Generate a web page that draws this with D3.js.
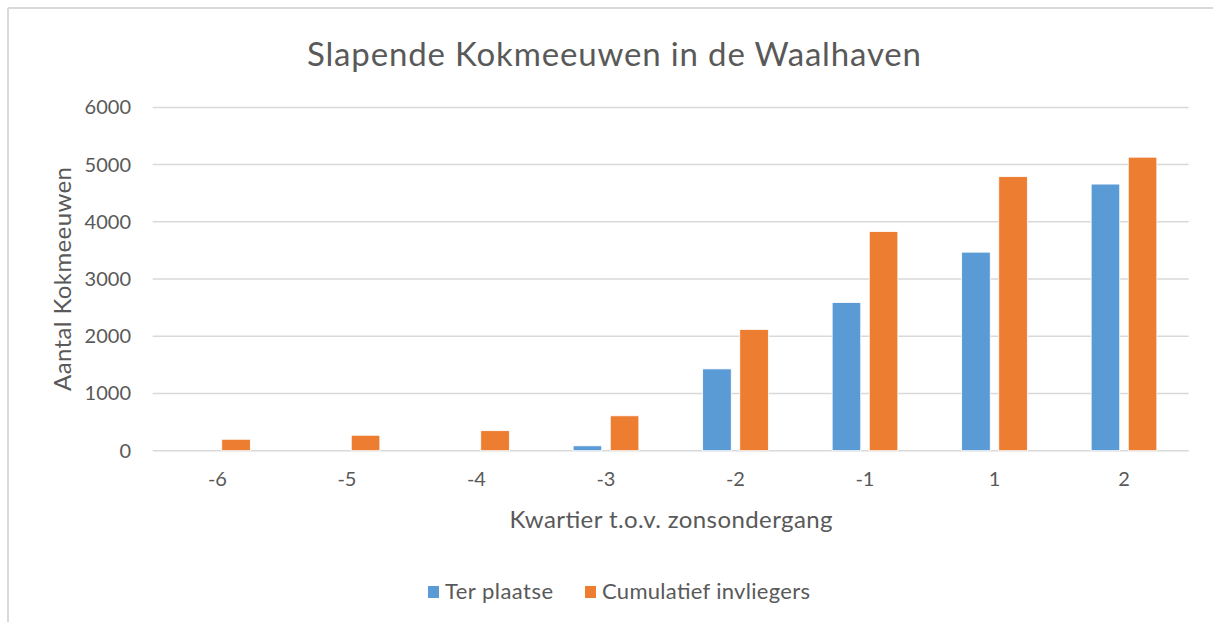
<!DOCTYPE html>
<html>
<head>
<meta charset="utf-8">
<script src="https://cdn.jsdelivr.net/npm/d3@7"></script>
<style>
  html, body { margin: 0; padding: 0; background: #fff; }
  svg { display: block; font-family: Lato, "Open Sans", "Liberation Sans", sans-serif; }
</style>
</head>
<body>
<svg id="chart" width="1213" height="622"></svg>
<script>
const categories = ["-6", "-5", "-4", "-3", "-2", "-1", "1", "2"];
const terPlaatse = [0, 0, 0, 85, 1430, 2590, 3470, 4660];
const cumulatiefInvliegers = [200, 270, 350, 610, 2120, 3830, 4790, 5130];
const yTicks = [0, 1000, 2000, 3000, 4000, 5000, 6000];
const seriesNames = ["Ter plaatse", "Cumulatief invliegers"];
const seriesColors = ["#5b9bd5", "#ed7d31"];
const title = "Slapende Kokmeeuwen in de Waalhaven";
const xTitle = "Kwartier t.o.v. zonsondergang";
const yTitle = "Aantal Kokmeeuwen";

const svg = d3.select("#chart");
const textColor = "#595959";
const gridColor = "#d9d9d9";

// chart frame (top and left border visible)
svg.append("line").attr("x1", 8).attr("x2", 1213).attr("y1", 8).attr("y2", 8)
  .attr("stroke", gridColor).attr("stroke-width", 2);
svg.append("line").attr("x1", 8).attr("x2", 8).attr("y1", 8).attr("y2", 622)
  .attr("stroke", gridColor).attr("stroke-width", 2);

const plotLeft = 152.7, plotRight = 1188.7, plotTop = 107.4, plotBottom = 450.7;

const x = d3.scaleBand().domain(categories).range([plotLeft, plotRight]).padding(0);
const y = d3.scaleLinear().domain([0, 6000]).range([plotBottom, plotTop]);

// gridlines
svg.append("g").selectAll("line").data(yTicks).join("line")
  .attr("x1", plotLeft).attr("x2", plotRight)
  .attr("y1", d => y(d)).attr("y2", d => y(d))
  .attr("stroke", gridColor).attr("stroke-width", 1.5);

// y axis labels
const yAxis = d3.axisLeft(y).tickValues(yTicks).tickSize(0).tickPadding(0).tickFormat(d3.format("d"));
const yg = svg.append("g").attr("transform", `translate(${131},0)`).call(yAxis);
yg.select(".domain").remove();
yg.selectAll("text").attr("fill", textColor).attr("font-size", 20).attr("font-family", "Lato, 'Open Sans', sans-serif");

// x axis labels
const xAxis = d3.axisBottom(x).tickSize(0).tickPadding(0);
const xg = svg.append("g").attr("transform", `translate(0,${472})`).call(xAxis);
xg.select(".domain").remove();
xg.selectAll("text").attr("fill", textColor).attr("font-size", 20).attr("font-family", "Lato, 'Open Sans', sans-serif");

// bars
const barW = 28.6;
const offsets = [-32.8, 4.3];
const seriesData = [terPlaatse, cumulatiefInvliegers];
seriesData.forEach((vals, si) => {
  svg.append("g").selectAll("rect").data(vals.map((v, i) => ({ c: categories[i], v })))
    .join("rect")
    .attr("x", d => x(d.c) + x.bandwidth() / 2 + offsets[si])
    .attr("width", barW)
    .attr("y", d => y(d.v))
    .attr("height", d => Math.max(0, y(0) - y(d.v)))
    .attr("fill", seriesColors[si])
    .attr("stroke", d => d.v > 0 ? "#fff" : "none")
    .attr("stroke-width", 0.8);
});

// title
svg.append("text").attr("x", 614).attr("y", 66).attr("text-anchor", "middle")
  .attr("fill", textColor).attr("font-size", 33).attr("textLength", 614).text(title);

// axis titles
svg.append("text").attr("x", 671).attr("y", 528).attr("text-anchor", "middle")
  .attr("fill", textColor).attr("font-size", 24).attr("textLength", 323).text(xTitle);
svg.append("text").attr("transform", `translate(71,279) rotate(-90)`).attr("text-anchor", "middle")
  .attr("fill", textColor).attr("font-size", 24).attr("textLength", 224).text(yTitle);

// legend
const legendItems = [{ x: 428, tx: 445, w: 108 }, { x: 585, tx: 602, w: 208 }];
const lg = svg.append("g");
seriesNames.forEach((n, i) => {
  lg.append("rect").attr("x", legendItems[i].x).attr("y", 586).attr("width", 11).attr("height", 12)
    .attr("fill", seriesColors[i]);
  lg.append("text").attr("x", legendItems[i].tx).attr("y", 599).attr("fill", textColor)
    .attr("font-size", 22).attr("textLength", legendItems[i].w).text(n);
});
</script>
</body>
</html>
